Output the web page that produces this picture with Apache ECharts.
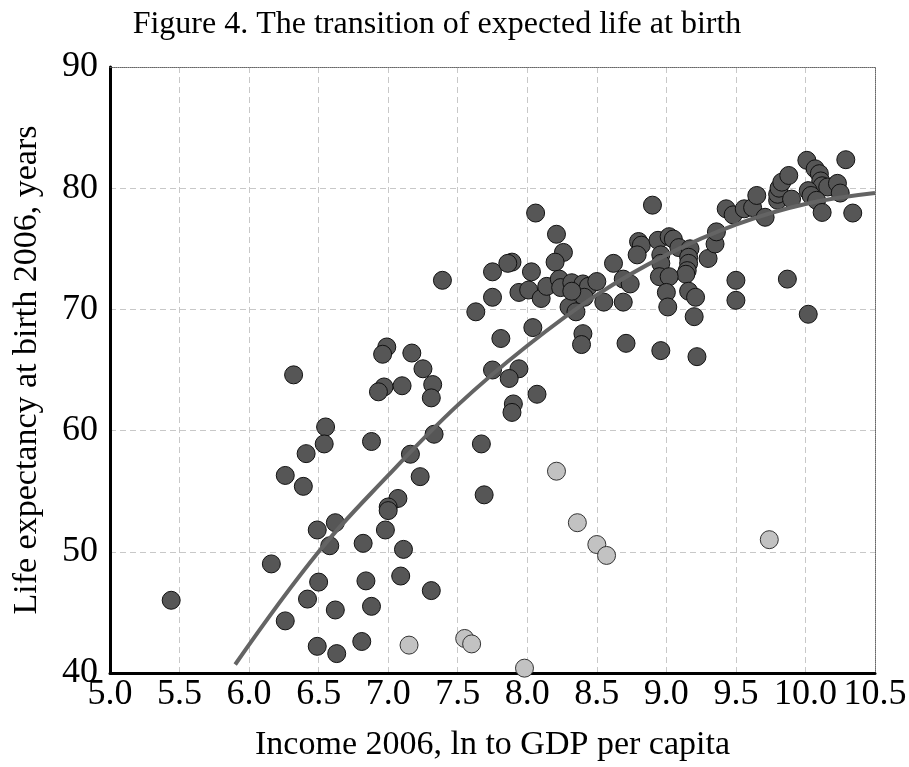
<!DOCTYPE html>
<html>
<head>
<meta charset="utf-8">
<script src="https://cdn.jsdelivr.net/npm/echarts@6/dist/echarts.min.js"></script>
<style>html,body{margin:0;padding:0;background:#fff;}#c{width:909px;height:767px;}</style>
</head>
<body>
<div id="c"></div>
<script>
const titleText = 'Figure 4. The transition of expected life at birth';
const xName = 'Income 2006, ln to GDP per capita';
const yName = 'Life expectancy at birth 2006, years';

// dark points: ln GDP per capita
const darkX = [6.32,6.55,6.54,6.41,6.26,6.39,6.49,6.62,6.58,6.16,6.50,5.44,6.42,6.62,6.26,6.49,6.63,
  7.07,7.00,7.00,6.98,6.82,7.11,6.84,7.09,7.31,6.88,6.81,
  7.39,6.99,6.96,7.17,7.25,6.97,6.93,7.10,7.32,7.31,6.88,7.33,7.16,7.23,7.69,
  7.75,7.89,7.86,8.03,7.75,7.94,8.01,8.10,7.63,7.81,8.04,7.75,7.94,7.87,7.90,7.89,8.07,7.67,
  8.06,8.21,8.26,8.20,8.14,8.23,8.24,8.32,8.40,8.44,8.50,8.41,8.30,8.35,8.55,8.62,8.69,8.74,8.69,8.40,8.39,8.71,8.90,8.80,8.82,8.79,8.32,
  8.94,9.02,9.05,9.09,9.17,8.96,8.96,9.16,9.16,9.15,9.14,8.95,9.02,9.00,9.16,9.21,9.01,9.20,9.50,9.50,9.87,10.02,8.96,9.22,
  9.30,9.35,9.36,9.43,9.48,9.56,9.62,9.65,9.71,9.80,9.80,9.81,9.83,9.88,9.90,
  10.01,10.29,10.07,10.10,10.11,10.12,10.16,10.23,10.02,10.04,10.08,10.25,10.12,10.34];
// dark points: life expectancy
const darkY = [64.6,60.3,58.9,58.1,56.3,55.4,51.8,52.4,50.5,49.0,47.5,46.0,46.1,45.2,44.3,42.2,41.6,
  54.4,53.7,53.4,51.8,50.7,50.2,47.6,48.0,46.8,45.5,42.6,
  72.4,66.9,66.3,66.4,65.1,63.6,63.2,63.7,63.8,62.7,59.1,59.7,58.05,56.2,54.7,
  73.1,73.9,73.8,73.1,71.0,71.4,71.6,70.9,69.8,67.6,68.5,65.0,65.1,64.3,62.2,61.5,63.0,58.9,
  77.95,76.2,74.7,73.9,71.9,72.5,71.8,72.2,72.1,71.9,72.3,71.0,70.2,69.8,70.6,73.8,72.5,72.1,70.6,68.0,67.1,67.2,78.6,75.6,75.3,74.5,71.5,
  75.7,76.0,75.8,75.1,75.0,74.5,73.8,74.3,73.8,73.2,72.9,72.7,72.7,71.4,71.5,71.0,70.2,69.4,72.4,70.75,72.5,69.6,66.6,66.1,
  74.2,75.4,76.4,78.3,77.8,78.3,78.4,79.4,77.6,79.0,79.5,80.0,80.5,81.05,79.1,
  82.3,82.35,81.6,81.2,80.6,80.2,80.1,80.4,79.8,79.4,79.0,79.6,78.0,77.95];

// light points
const lightX = [8.21,8.36,8.50,8.57,9.74,7.15,7.55,7.60,7.98];
const lightY = [56.65,52.4,50.6,49.7,51.0,42.3,42.85,42.4,40.4];

// trend curve
const trendX = [5.9,6.5,7.0,7.5,8.0,8.5,9.0,9.5,10.0,10.5];
const trendY = [40.7,50.0,56.3,62.1,67.0,71.2,74.5,77.0,78.7,79.6];

const xTicks = [5.0,5.5,6.0,6.5,7.0,7.5,8.0,8.5,9.0,9.5,10.0,10.5];
const yTicks = [40,50,60,70,80,90];

const zip = (a, b) => a.map((v, i) => [v, b[i]]);
const FONT = '"Liberation Serif","Times New Roman",serif';

const chart = echarts.init(document.getElementById('c'), null, {renderer: 'canvas'});
chart.setOption({
  animation: false,
  backgroundColor: '#fff',
  textStyle: {fontFamily: FONT},
  title: {
    text: titleText, left: 432, top: 4, textAlign: 'center',
    textStyle: {fontFamily: FONT, fontSize: 32, fontWeight: 'normal', color: '#000'}
  },
  grid: {left: 110, right: 34, top: 67, bottom: 94, containLabel: false, outerBoundsMode: 'none'},
  xAxis: [{
    type: 'value', min: xTicks[0], max: xTicks[xTicks.length - 1], interval: 0.5,
    name: xName, nameLocation: 'middle', nameGap: 55,
    nameTextStyle: {fontFamily: FONT, fontSize: 34, color: '#000'},
    axisLine: {onZero: false, lineStyle: {color: '#000', width: 3}},
    axisTick: {show: false},
    axisLabel: {fontFamily: FONT, fontSize: 36, color: '#000', margin: 4,
      formatter: v => v.toFixed(1)},
    splitLine: {show: true, lineStyle: {color: '#c8c8c8', type: [6, 4], width: 1}}
  }, {
    type: 'value', position: 'top', min: xTicks[0], max: xTicks[xTicks.length - 1],
    axisLine: {show: true, lineStyle: {color: '#666', width: 1, type: 'dotted'}},
    axisTick: {show: false}, axisLabel: {show: false}, splitLine: {show: false}
  }],
  yAxis: [{
    type: 'value', min: yTicks[0], max: yTicks[yTicks.length - 1], interval: 10,
    name: yName, nameLocation: 'middle', nameGap: 66,
    nameTextStyle: {fontFamily: FONT, fontSize: 34, color: '#000'},
    axisLine: {show: true, onZero: false, lineStyle: {color: '#000', width: 3}},
    axisTick: {show: false},
    axisLabel: {fontFamily: FONT, fontSize: 36, color: '#000', margin: 12},
    splitLine: {show: true, lineStyle: {color: '#c8c8c8', type: [6, 4], width: 1}}
  }, {
    type: 'value', position: 'right', min: yTicks[0], max: yTicks[yTicks.length - 1],
    axisLine: {show: true, lineStyle: {color: '#666', width: 1, type: 'dotted'}},
    axisTick: {show: false}, axisLabel: {show: false}, splitLine: {show: false}
  }],
  series: [{
    type: 'scatter', data: zip(darkX, darkY), symbolSize: 18, clip: false,
    itemStyle: {color: '#565656', borderColor: '#111', borderWidth: 1, opacity: 1}
  }, {
    type: 'scatter', data: zip(lightX, lightY), symbolSize: 18, clip: false,
    itemStyle: {color: '#c2c2c2', borderColor: '#333', borderWidth: 1, opacity: 1}
  }, {
    type: 'line', data: zip(trendX, trendY), smooth: 0.4, showSymbol: false, z: 5,
    lineStyle: {color: '#646464', width: 4}
  }]
});
</script>
</body>
</html>
